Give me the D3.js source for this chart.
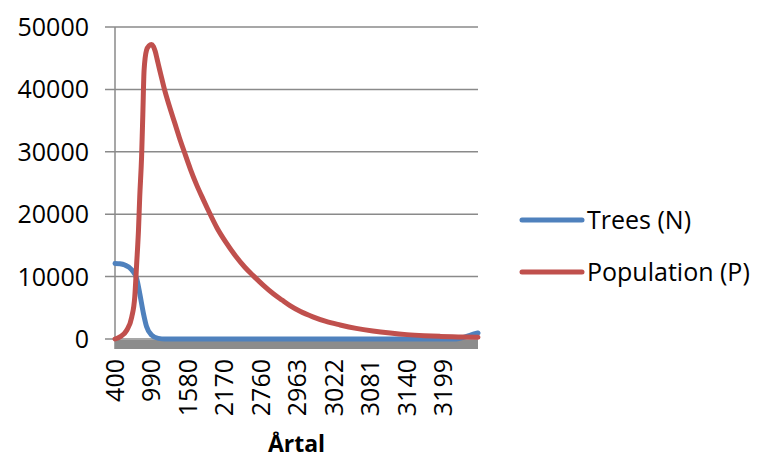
<!DOCTYPE html>
<html>
<head>
<meta charset="utf-8">
<script src="https://cdn.jsdelivr.net/npm/d3@7"></script>
<style>
  html, body { margin: 0; padding: 0; background: #fff; }
  svg { display: block; }
  text { font-family: "Open Sans", "Noto Sans", sans-serif; fill: #000; }
</style>
</head>
<body>
<svg id="chart" width="760" height="460"></svg>
<script>
// ---- data ----
const tickLabels = ["400", "990", "1580", "2170", "2760", "2963", "3022", "3081", "3140", "3199"];
const labelEvery = 59;        // categories between labels
const categoryCount = 588;    // number of categories on the axis
const yTicks = [0, 10000, 20000, 30000, 40000, 50000];

// Trees (N): category index / value
const treesIdx = [0, 8, 16, 27, 35, 40, 46, 51, 59, 70, 81, 300, 552, 565, 576, 587];
const trees    = [12100, 12050, 11850, 11100, 9700, 7300, 4100, 2000, 650, 100, 0, 0, 0, 300, 650, 960];

// Population (P): category index / value
const popIdx = [0, 8, 19, 27, 32, 35, 38, 40, 43, 45, 47, 51, 55, 59, 62, 65, 68, 72, 76, 80, 88, 96, 104, 112,
                122, 132, 142, 150, 165, 180, 195, 210, 223, 240, 256, 270, 283, 300, 320, 340, 364, 390, 417,
                445, 472, 500, 526, 555, 587];
const population = [0, 350, 1400, 3500, 6800, 12000, 17500, 22800, 29200, 36000, 43000, 46300, 47000, 47200, 46900,
                    46100, 44900, 43200, 41600, 40000, 37300, 34800, 32300, 30000,
                    27200, 24700, 22500, 20800, 17800, 15400, 13300, 11500, 10200, 8600, 7250, 6250, 5350, 4400,
                    3550, 2850, 2250, 1700, 1280, 950, 700, 530, 420, 340, 270];

const seriesNames = ["Trees (N)", "Population (P)"];
const colors = ["#4F81BD", "#C0504D"];

// ---- drawing ----
const svg = d3.select("#chart");
const x = d3.scaleLinear().domain([0, categoryCount - 1]).range([115, 478]);
const y = d3.scaleLinear().domain([0, 50000]).range([339, 27]);

// gridlines + y ticks
svg.append("g").selectAll("line").data(yTicks).join("line")
  .attr("x1", 105).attr("x2", 478)
  .attr("y1", d => y(d)).attr("y2", d => y(d))
  .attr("stroke", "#8a8a8a").attr("stroke-width", 1.5);

// y labels
svg.append("g").selectAll("text").data(yTicks).join("text")
  .attr("x", 89).attr("y", d => y(d)).attr("dy", "0.36em")
  .attr("text-anchor", "end").attr("font-size", 25)
  .text(d => d);

// vertical axis line
svg.append("line").attr("x1", 115).attr("x2", 115).attr("y1", y(50000)).attr("y2", 349)
  .attr("stroke", "#8a8a8a").attr("stroke-width", 1.5);

// gray floor band along the category axis
svg.append("rect").attr("x", 115).attr("y", y(0) + 1).attr("width", 478 - 115).attr("height", 9)
  .attr("fill", "#8c8c8c");

// x labels
svg.append("g").selectAll("text").data(tickLabels).join("text")
  .attr("transform", (d, i) => `translate(${x(i * labelEvery)},359) rotate(-90)`)
  .attr("dy", "0.35em").attr("text-anchor", "end").attr("font-size", 25)
  .text(d => d);

// axis title
svg.append("text").attr("x", (115 + 478) / 2).attr("y", 452)
  .attr("text-anchor", "middle").attr("font-size", 23).attr("font-weight", "bold")
  .text("Årtal");

// lines
const line = d3.line().x(d => x(d[0])).y(d => y(d[1])).curve(d3.curveMonotoneX);
const treesData = treesIdx.map((c, i) => [c, trees[i]]);
const popData = popIdx.map((c, i) => [c, population[i]]);
[treesData, popData].forEach((data, k) => {
  svg.append("path").datum(data).attr("d", line)
    .attr("fill", "none").attr("stroke", colors[k]).attr("stroke-width", 5)
    .attr("stroke-linejoin", "round").attr("stroke-linecap", "round");
});

// legend
const legendY = [220, 272];
seriesNames.forEach((name, k) => {
  svg.append("line").attr("x1", 522).attr("x2", 582).attr("y1", legendY[k]).attr("y2", legendY[k])
    .attr("stroke", colors[k]).attr("stroke-width", 5).attr("stroke-linecap", "round");
  svg.append("text").attr("x", 587).attr("y", legendY[k]).attr("dy", "0.36em")
    .attr("font-size", 25).text(name);
});
</script>
</body>
</html>
